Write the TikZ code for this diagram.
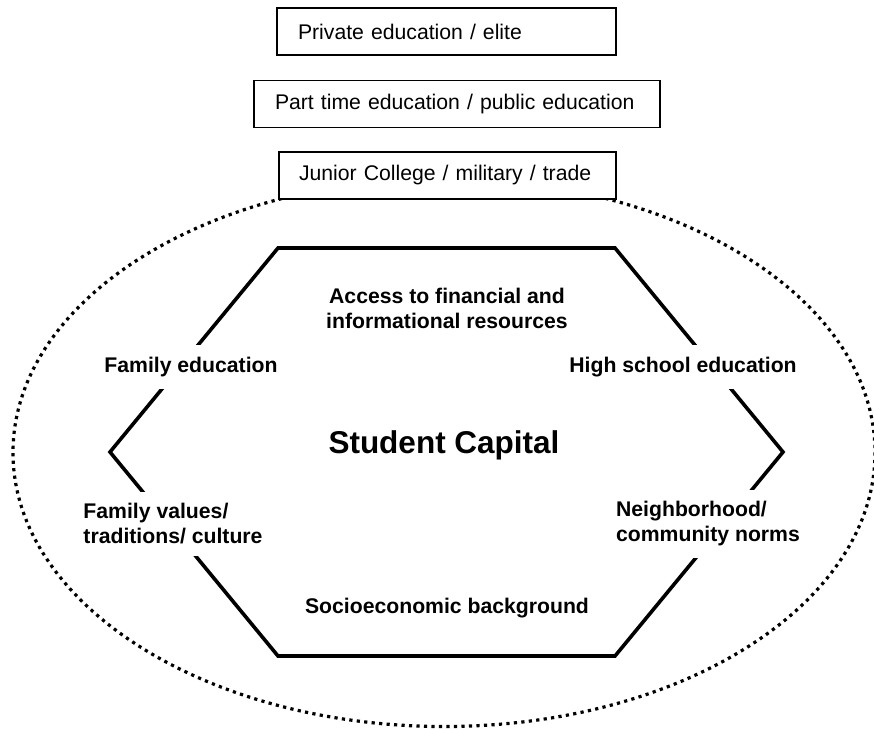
\documentclass[tikz,border=0pt]{standalone}
\usepackage{fontspec}
\setmainfont{Liberation Sans}
\begin{document}
\begin{tikzpicture}[x=1pt,y=-1pt,
  topbox/.style={draw,line width=1.8pt,fill=white,minimum height=47pt,inner xsep=21pt,align=left,font=\fontsize{21.2}{24}\selectfont},
  factor/.style={fill=white,inner xsep=4pt,inner ysep=12pt,align=center,font=\bfseries\fontsize{21.2}{25}\selectfont},
  hexline/.style={line width=3.6pt,line join=miter},
  dotline/.style={line width=3.2pt,dash pattern=on 3.2pt off 4.3pt}]
\useasboundingbox (0,0) rectangle (874,729);
% outer dotted ellipse
\draw[dotline] (444,452.5) ellipse [x radius=431, y radius=274];
% top boxes
\node[topbox,text width=297pt] (priv) at (446.5,31.5) {Private education / elite};
\node[topbox,text width=364pt] (part) at (457,104) {Part time education / public education};
\node[topbox,text width=297pt,inner xsep=20pt] (junior) at (447.5,175.5) {Junior College / military / trade};
% hexagon
\coordinate (h1) at (278,248);
\coordinate (h2) at (615,248);
\coordinate (h3) at (783,452);
\coordinate (h4) at (615,656);
\coordinate (h5) at (278,656);
\coordinate (h6) at (110,452);
\draw[hexline] (h1) -- (h2) -- (h3) -- (h4) -- (h5) -- (h6) -- cycle;
% labels
\node[factor] (acc) at (447,308) {Access to financial and\\informational resources};
\node[factor] (fe) at (191,367) {Family education};
\node[factor] (hs) at (683,367) {High school education};
\node[factor,align=left] (fv) at (173,524) {Family values/\\traditions/ culture};
\node[factor,align=left] (nb) at (708,524) {Neighborhood/\\community norms};
\node[factor] (se) at (447,608) {Socioeconomic background};
\node[font=\bfseries\fontsize{31.5}{36}\selectfont] (sc) at (444,445) {Student Capital};
\end{tikzpicture}
\end{document}
